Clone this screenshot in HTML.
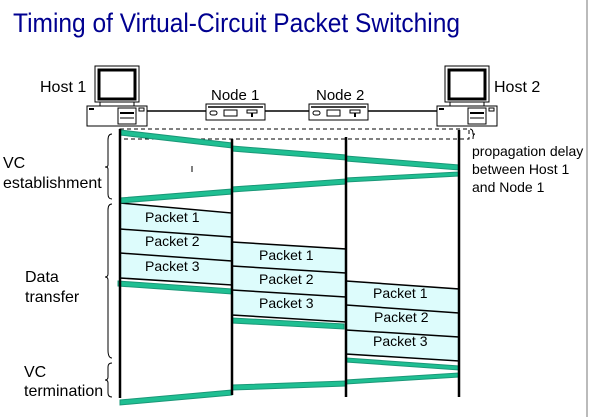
<!DOCTYPE html>
<html><head><style>
html,body{margin:0;padding:0;background:#fff;width:590px;height:417px;overflow:hidden}
text{font-family:"Liberation Sans",Arial,sans-serif;fill:#000}
</style></head><body>
<svg width="590" height="417" viewBox="0 0 590 417" xmlns="http://www.w3.org/2000/svg">
<line x1="587" y1="0" x2="587" y2="417" stroke="#bbb" stroke-width="2"/>
<text x="13" y="32" style="font-size:27px;fill:#000090" textLength="447" lengthAdjust="spacingAndGlyphs">Timing of Virtual-Circuit Packet Switching</text>

<line x1="147" y1="111" x2="437" y2="111" stroke="#000" stroke-width="1.5"/>

<g>
<rect x="95" y="66" width="44" height="36" fill="#fff" stroke="#000"/>
<rect x="99" y="70" width="36" height="29" fill="#fff" stroke="#000" stroke-width="3"/>
<rect x="100" y="102" width="34" height="4" fill="#fff" stroke="#000"/>
<rect x="87" y="106" width="60" height="20" fill="#fff" stroke="#000"/>
<rect x="89" y="108" width="5" height="2" fill="#000"/>
<rect x="118" y="108" width="18" height="16" fill="#fff" stroke="#000"/>
<line x1="120" y1="113" x2="134" y2="113" stroke="#000" stroke-width="2"/>
<line x1="120" y1="118" x2="134" y2="118" stroke="#000"/>
<rect x="139" y="108" width="5" height="3" fill="#fff" stroke="#000"/>
</g>
<g transform="translate(350,0)">
<rect x="95" y="66" width="44" height="36" fill="#fff" stroke="#000"/>
<rect x="99" y="70" width="36" height="29" fill="#fff" stroke="#000" stroke-width="3"/>
<rect x="100" y="102" width="34" height="4" fill="#fff" stroke="#000"/>
<rect x="87" y="106" width="60" height="20" fill="#fff" stroke="#000"/>
<rect x="89" y="108" width="5" height="2" fill="#000"/>
<rect x="118" y="108" width="18" height="16" fill="#fff" stroke="#000"/>
<line x1="120" y1="113" x2="134" y2="113" stroke="#000" stroke-width="2"/>
<line x1="120" y1="118" x2="134" y2="118" stroke="#000"/>
<rect x="139" y="108" width="5" height="3" fill="#fff" stroke="#000"/>
</g>
<text x="40" y="92" style="font-size:16px">Host 1</text>
<text x="494" y="92" style="font-size:16px">Host 2</text>

<g>
<rect x="206" y="104" width="59" height="16" fill="#fff" stroke="#000"/>
<line x1="208" y1="107" x2="263" y2="107" stroke="#000" stroke-width="1.5"/>
<rect x="210" y="111" width="7" height="4" rx="2" fill="#fff" stroke="#000"/>
<rect x="224" y="110" width="13" height="6" fill="#fff" stroke="#000"/>
<rect x="247" y="110" width="10" height="3" fill="#fff" stroke="#000"/>
<line x1="252" y1="113" x2="252" y2="117" stroke="#000" stroke-width="2"/>
</g>
<g transform="translate(103,0)">
<rect x="206" y="104" width="59" height="16" fill="#fff" stroke="#000"/>
<line x1="208" y1="107" x2="263" y2="107" stroke="#000" stroke-width="1.5"/>
<rect x="210" y="111" width="7" height="4" rx="2" fill="#fff" stroke="#000"/>
<rect x="224" y="110" width="13" height="6" fill="#fff" stroke="#000"/>
<rect x="247" y="110" width="10" height="3" fill="#fff" stroke="#000"/>
<line x1="252" y1="113" x2="252" y2="117" stroke="#000" stroke-width="2"/>
</g>
<text x="211" y="100" style="font-size:15px">Node 1</text>
<text x="316" y="100" style="font-size:15px">Node 2</text>

<rect x="120" y="129" width="349" height="10" fill="none" stroke="#000" stroke-dasharray="4,3"/>
<path d="M470 129 q3 0 3 5 q0 0 2 0 q-2 0 -2 5" fill="none" stroke="#000"/>

<g fill="#ddfcfc" stroke="#000" stroke-width="1.5">
<polygon points="120,203 232,213 232,285 120,278"/>
<line x1="120" y1="229" x2="232" y2="237"/>
<line x1="120" y1="253" x2="232" y2="261"/>
<polygon points="232,242 346,249 346,322 232,315"/>
<line x1="232" y1="266" x2="346" y2="273"/>
<line x1="232" y1="290" x2="346" y2="297"/>
<polygon points="346,281 459,289 459,361 346,354"/>
<line x1="346" y1="305" x2="459" y2="313"/>
<line x1="346" y1="330" x2="459" y2="337"/>
</g>
<g style="font-size:14px">
<text x="145" y="222">Packet 1</text>
<text x="145" y="246">Packet 2</text>
<text x="145" y="271">Packet 3</text>
<text x="259" y="260">Packet 1</text>
<text x="259" y="284">Packet 2</text>
<text x="259" y="308">Packet 3</text>
<text x="373" y="298">Packet 1</text>
<text x="374" y="322">Packet 2</text>
<text x="373" y="346">Packet 3</text>
</g>

<g stroke="#1a9878" stroke-width="1" fill="#1fbf92">
<polygon points="120,130 232,143 232,148 120,135"/>
<polygon points="232,146 346,155 346,160 232,151"/>
<polygon points="346,156 459,165 459,170 346,161"/>
<polygon points="459,172 346,178 346,182 459,176"/>
<polygon points="346,179 232,187 232,192 346,184"/>
<polygon points="232,189 120,198 120,203 232,194"/>
<polygon points="118,281 232,289 232,294 118,286"/>
<polygon points="232,318 344,324 344,329 232,323"/>
<polygon points="346,358 459,366 459,370 346,362"/>
<polygon points="459,373 346,380 346,384 459,377"/>
<polygon points="346,381 232,385 232,390 346,386"/>
<polygon points="232,390 120,400 120,405 232,395"/>
</g>

<g stroke="#000" stroke-width="2.5">
<line x1="120" y1="129" x2="120" y2="398"/>
<line x1="232" y1="139" x2="232" y2="395"/>
<line x1="346" y1="137" x2="346" y2="397"/>
<line x1="459" y1="130" x2="459" y2="397"/>
</g>
<line x1="192" y1="166" x2="192" y2="172" stroke="#000"/>

<g fill="none" stroke="#000" stroke-width="1">
<path d="M112 134 q-4 0 -4 6 v25 q0 2 -3 2 q3 0 3 2 v25 q0 5 4 5"/>
<path d="M112 204 q-4 0 -4 6 v64 q0 3 -3 3 q3 0 3 3 v70 q0 8 4 8"/>
<path d="M112 363 q-4 0 -4 4 v10 q0 3 -3 3 q3 0 3 3 v10 q0 4 4 4"/>
</g>

<g style="font-size:16px">
<text x="3" y="168">VC</text>
<text x="3" y="188">establishment</text>
<text x="25" y="282">Data</text>
<text x="25" y="302">transfer</text>
<text x="24" y="377">VC</text>
<text x="24" y="396">termination</text>
<text x="472" y="156" style="font-size:14px">propagation delay</text>
<text x="472" y="174" style="font-size:14px">between Host 1</text>
<text x="472" y="192" style="font-size:14px">and Node 1</text>
</g>
</svg>
</body></html>
